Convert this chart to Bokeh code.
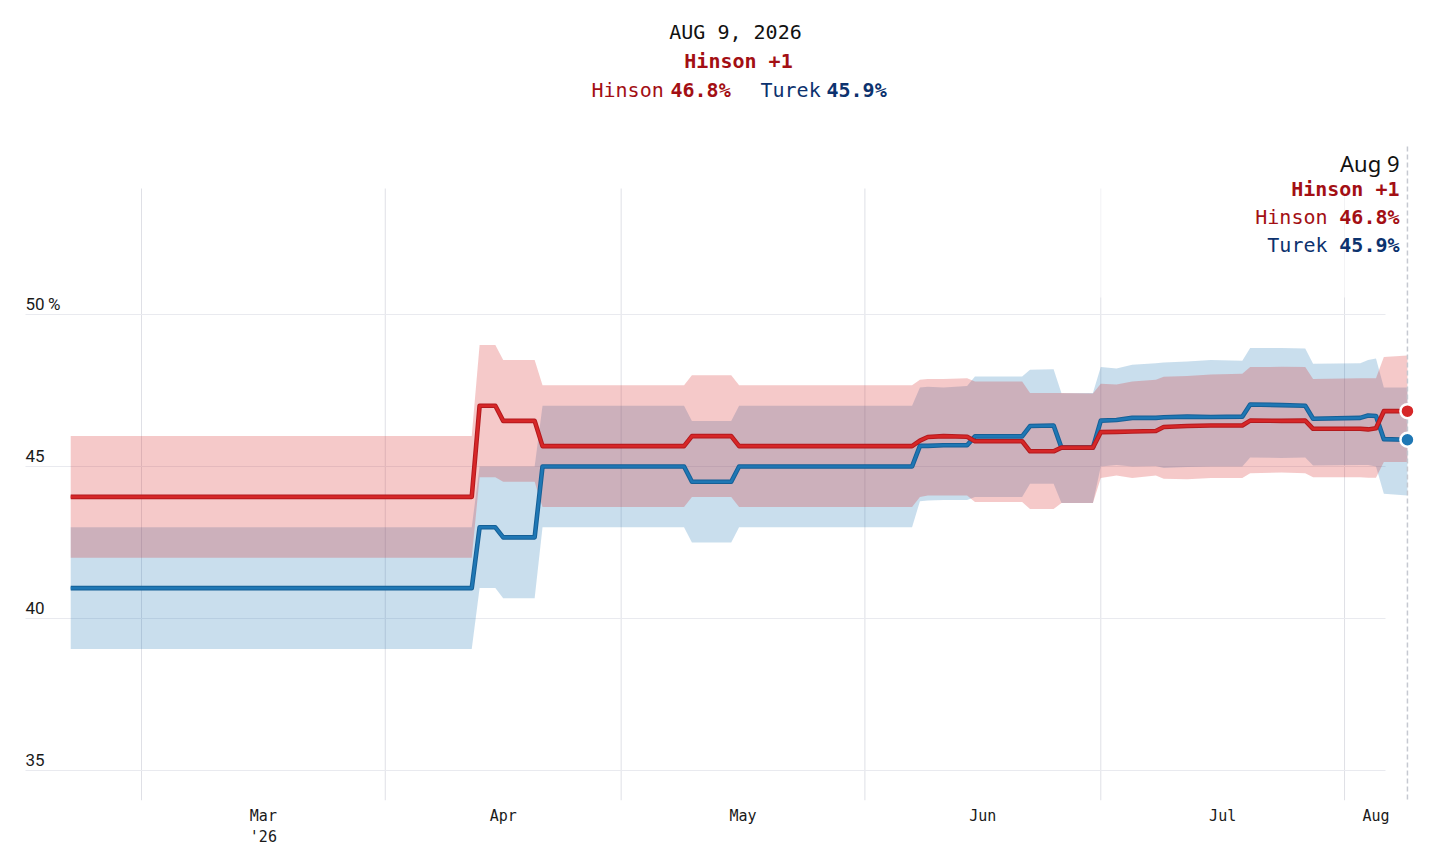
import pandas as pd
from bokeh.plotting import figure
from bokeh.models import Range1d, FixedTicker, ColumnDataSource
from bokeh.core.properties import value
from bokeh.embed import file_html
from bokeh.resources import INLINE

# ---------------- data ----------------
dates = ["2026-02-20", "2026-04-12", "2026-04-13", "2026-04-15", "2026-04-16", "2026-04-20",
         "2026-04-21", "2026-05-09", "2026-05-10", "2026-05-15", "2026-05-16", "2026-06-07",
         "2026-06-08", "2026-06-09", "2026-06-11", "2026-06-14", "2026-06-15", "2026-06-21",
         "2026-06-22", "2026-06-25", "2026-06-26", "2026-06-30", "2026-07-01", "2026-07-03",
         "2026-07-05", "2026-07-08", "2026-07-09", "2026-07-12", "2026-07-15", "2026-07-19",
         "2026-07-20", "2026-07-24", "2026-07-27", "2026-07-28", "2026-08-03", "2026-08-04",
         "2026-08-05", "2026-08-06", "2026-08-09"]
hinson = [44.0, 44.0, 47.0, 47.0, 46.5, 46.5,
          45.67, 45.67, 46.0, 46.0, 45.67, 45.67,
          45.85, 45.97, 46.0, 45.98, 45.83, 45.83,
          45.5, 45.5, 45.62, 45.62, 46.13, 46.14,
          46.15, 46.17, 46.3, 46.33, 46.35, 46.35,
          46.51, 46.5, 46.51, 46.24, 46.24, 46.22,
          46.26, 46.82, 46.82]
turek = [41.0, 41.0, 43.0, 43.0, 42.67, 42.67,
         45.0, 45.0, 44.5, 44.5, 45.0, 45.0,
         45.68, 45.68, 45.7, 45.7, 45.99, 45.99,
         46.33, 46.35, 45.62, 45.62, 46.51, 46.53,
         46.6, 46.6, 46.62, 46.64, 46.63, 46.64,
         47.04, 47.02, 47.0, 46.57, 46.6, 46.68,
         46.66, 45.9, 45.88]
hinson_lo = [42.0, 42.0, 44.65, 44.65, 44.5, 44.5,
             43.67, 43.67, 44.0, 44.0, 43.67, 43.67,
             44.0, 44.05, 44.05, 44.05, 43.83, 43.83,
             43.6, 43.6, 43.8, 43.8, 44.62, 44.7,
             44.62, 44.7, 44.6, 44.58, 44.62, 44.62,
             44.78, 44.8, 44.78, 44.65, 44.65, 44.63,
             44.63, 45.15, 45.15]
hinson_hi = [46.0, 46.0, 49.0, 49.0, 48.5, 48.5,
             47.67, 47.67, 48.0, 48.0, 47.67, 47.67,
             47.85, 47.88, 47.88, 47.9, 47.8, 47.8,
             47.42, 47.42, 47.42, 47.4, 47.72, 47.7,
             47.8, 47.85, 47.95, 47.98, 48.03, 48.05,
             48.27, 48.28, 48.27, 47.88, 47.9, 47.9,
             47.9, 48.6, 48.65]
turek_lo = [39.0, 39.0, 41.0, 41.0, 40.67, 40.67,
            43.0, 43.0, 42.5, 42.5, 43.0, 43.0,
            43.86, 43.88, 43.9, 43.9, 44.0, 44.0,
            44.43, 44.43, 43.8, 43.8, 45.0, 45.05,
            45.0, 45.02, 44.95, 44.98, 45.0, 45.0,
            45.3, 45.28, 45.3, 45.03, 45.05, 45.05,
            45.0, 44.1, 44.05]
turek_hi = [43.0, 43.0, 45.0, 45.0, 45.0, 45.0,
            47.0, 47.0, 46.5, 46.5, 47.0, 47.0,
            47.6, 47.62, 47.6, 47.65, 47.96, 47.96,
            48.18, 48.2, 47.41, 47.42, 48.27, 48.22,
            48.35, 48.4, 48.42, 48.45, 48.5, 48.48,
            48.9, 48.9, 48.88, 48.38, 48.4, 48.5,
            48.55, 47.6, 47.6]

month_starts = ["2026-03-01", "2026-04-01", "2026-05-01", "2026-06-01", "2026-07-01", "2026-08-01"]
month_labels = ["Mar\n'26", "Apr", "May", "Jun", "Jul", "Aug"]
y_ticks = [35, 40, 45, 50]
y_tick_labels = ["35", "40", "45", "50\u2009%"]

headline_date = "AUG 9, 2026"
marker_date = "Aug 9"
lead_text = "Hinson +1"
names = ["Hinson", "Turek"]
latest = ["46.8%", "45.9%"]

# ---------------- styles ----------------
RED = "#d62728"
RED_EDGE = "#b3191d"
BLUE = "#1f77b4"
BLUE_EDGE = "#155f96"
RED_DARK = "#a30f14"
BLUE_DARK = "#0c326e"
MONO = value("DejaVu Sans Mono")
SANS = value("Noto Sans")
TICKF = value("Roboto")
DAY = 86400000.0


def ms(d):
    return pd.Timestamp(d).value / 1e6


MAR1 = ms("2026-03-01")
PX_PER_DAY = 7.863


def dx(px):  # picture pixel -> x data (ms)
    return MAR1 + (px - 141) / PX_PER_DAY * DAY


def vy(py):  # picture pixel -> y data
    return 50 - (py - 314) / 30.4


x = [ms(d) for d in dates]
src = ColumnDataSource(dict(x=x, h=hinson, t=turek, hlo=hinson_lo, hhi=hinson_hi,
                            tlo=turek_lo, thi=turek_hi))

p = figure(width=1440, height=856, x_axis_type="datetime", y_axis_location=None,
           output_backend="svg", toolbar_location=None,
           x_range=Range1d(dx(0), dx(1440)), y_range=Range1d(vy(800), vy(0)),
           min_border_left=0, min_border_right=0, min_border_top=0, min_border_bottom=56)
p.outline_line_color = None
p.xgrid.visible = False
p.ygrid.visible = False
p.background_fill_color = "white"
p.border_fill_color = "white"

# x axis: labels centred in each month
ms_starts = [ms(d) for d in month_starts]
ends = ms_starts[1:] + [x[-1]]
mids = [(a + b) / 2 for a, b in zip(ms_starts, ends)]
ax = p.xaxis[0]
ax.ticker = FixedTicker(ticks=mids)
ax.major_label_overrides = {m: lab for m, lab in zip(mids, month_labels)}
ax.axis_line_color = None
ax.major_tick_line_color = None
ax.minor_tick_line_color = None
ax.major_label_text_font = "DejaVu Sans Mono"
ax.major_label_text_font_size = "15px"
ax.major_label_text_color = "#1a1a1a"
ax.major_label_standoff = 0

# grid lines
p.segment(x0=ms_starts, x1=ms_starts, y0=[vy(188)] * len(ms_starts), y1=[vy(800)] * len(ms_starts),
          line_color="#dfe0e6", line_width=1)
p.segment(x0=[dx(25)] * len(y_ticks), x1=[dx(1385)] * len(y_ticks), y0=y_ticks, y1=y_ticks,
          line_color="#e9eaef", line_width=1)
p.quad(left=[dx(1090)], right=[dx(1402)], top=[vy(186)], bottom=[vy(297)],
       fill_color="white", fill_alpha=0.6, line_color=None)
p.text(x=[dx(25)] * len(y_ticks), y=y_ticks, text=y_tick_labels, text_align="left",
       text_baseline="alphabetic", y_offset=-11, text_font=TICKF, text_font_size="17px",
       text_color="#1a1a1a")

# bands
p.varea(x="x", y1="tlo", y2="thi", source=src, fill_color=BLUE, fill_alpha=0.24)
p.varea(x="x", y1="hlo", y2="hhi", source=src, fill_color=RED, fill_alpha=0.25)

# lines
p.line(x="x", y="t", source=src, line_color=BLUE_EDGE, line_width=4.6, line_join="round")
p.line(x="x", y="t", source=src, line_color=BLUE, line_width=2.6, line_join="round")
p.line(x="x", y="h", source=src, line_color=RED_EDGE, line_width=4.6, line_join="round")
p.line(x="x", y="h", source=src, line_color=RED, line_width=2.6, line_join="round")

# current-date marker
p.segment(x0=[x[-1]], x1=[x[-1]], y0=[vy(146)], y1=[vy(800)], line_color="#c6c9d1",
          line_width=1.5, line_dash="5 3")
p.scatter(x=[x[-1]], y=[turek[-1]], size=14, fill_color=BLUE, line_color="white", line_width=2.5)
p.scatter(x=[x[-1]], y=[hinson[-1]], size=14, fill_color=RED, line_color="white", line_width=2.5)

# headline
p.text(x=[dx(735)], y=[vy(31)], text=[headline_date], text_align="center", text_baseline="middle",
       text_font=MONO, text_font_size="20px", text_color="#111111")
p.text(x=[dx(738)], y=[vy(60)], text=[lead_text], text_align="center", text_baseline="middle",
       text_font=MONO, text_font_size="20px", text_font_style="bold", text_color=RED_DARK)
p.text(x=[dx(591), dx(760)], y=[vy(89)] * 2, text=names, text_align="left", text_baseline="middle",
       text_font=MONO, text_font_size="20px", text_color=[RED_DARK, BLUE_DARK])
p.text(x=[dx(670), dx(826)], y=[vy(89)] * 2, text=latest, text_align="left", text_baseline="middle",
       text_font=MONO, text_font_size="20px", text_font_style="bold", text_color=[RED_DARK, BLUE_DARK])

# annotation at the current date
p.text(x=[dx(1399)], y=[vy(162)], text=[marker_date], text_align="right", text_baseline="middle",
       text_font=SANS, text_font_size="22px", text_color="#111111")
p.text(x=[dx(1399)], y=[vy(188)], text=[lead_text], text_align="right", text_baseline="middle",
       text_font=MONO, text_font_size="20px", text_font_style="bold", text_color=RED_DARK)
p.text(x=[dx(1327)] * 2, y=[vy(216), vy(244)], text=names, text_align="right", text_baseline="middle",
       text_font=MONO, text_font_size="20px", text_color=[RED_DARK, BLUE_DARK])
p.text(x=[dx(1399)] * 2, y=[vy(216), vy(244)], text=latest, text_align="right", text_baseline="middle",
       text_font=MONO, text_font_size="20px", text_font_style="bold", text_color=[RED_DARK, BLUE_DARK])

open("out.html", "w").write(file_html(p, INLINE))
